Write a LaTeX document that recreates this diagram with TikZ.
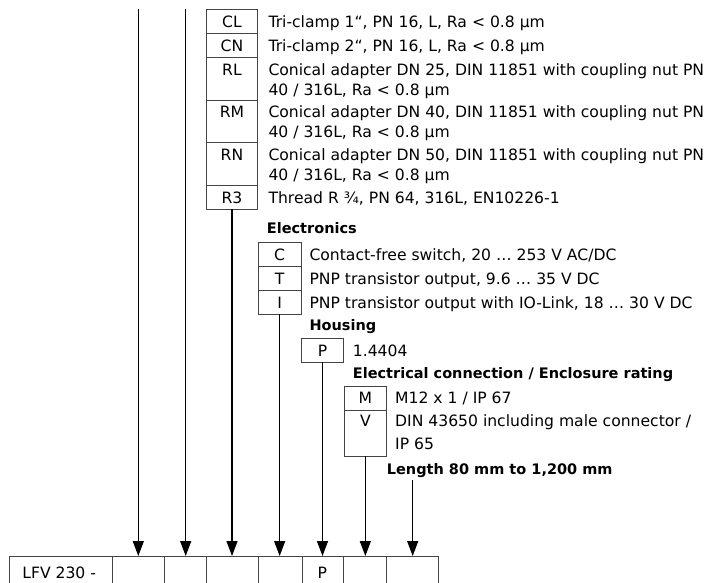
\documentclass[tikz,border=0pt]{standalone}
\usepackage{fontspec}
\setmainfont{DejaVu Sans}
\usetikzlibrary{arrows.meta}
\definecolor{boxgray}{HTML}{444444}
\newcommand\regfont{\fontsize{15.6}{19}\selectfont}
\newcommand\headfont{\bfseries\fontsize{14.5}{17}\selectfont}
\tikzset{
  cellbox/.style={draw=boxgray, line width=0.8pt, rectangle, inner sep=0pt, outer sep=0pt},
  lbl/.style={anchor=base, inner sep=0pt, font=\regfont},
  desc/.style={anchor=base west, inner sep=0pt, font=\regfont},
  head/.style={anchor=base west, inner sep=0pt, font=\headfont},
  arr/.style={line width=1.3pt, -{Triangle[length=15pt,width=11pt]}}
}
\begin{document}
\begin{tikzpicture}[x=1pt,y=-1pt]
\useasboundingbox (0,0) rectangle (711,582);
\clip (0,0) rectangle (711,582);

% ---- process connection box ----
\node[cellbox, minimum width=50.6pt, minimum height=24pt]   (cl) at (232,21.3) {};
\node[cellbox, minimum width=50.6pt, minimum height=24pt]   (cn) at (232,45.3) {};
\node[cellbox, minimum width=50.6pt, minimum height=42.7pt] (rl) at (232,78.65) {};
\node[cellbox, minimum width=50.6pt, minimum height=42.7pt] (rm) at (232,121.35) {};
\node[cellbox, minimum width=50.6pt, minimum height=42.6pt] (rn) at (232,164) {};
\node[cellbox, minimum width=50.6pt, minimum height=24pt]   (r3) at (232,197.3) {};

\node[lbl] (lcl) at (232,27) {CL};
\node[lbl] (lcn) at (232,51) {CN};
\node[lbl] (lrl) at (232,75) {RL};
\node[lbl] (lrm) at (232,117.7) {RM};
\node[lbl] (lrn) at (232,160.4) {RN};
\node[lbl] (lr3) at (232,203) {R3};

\node[desc] (dcl) at (268.3,27) {Tri-clamp 1“, PN 16, L, Ra < 0.8 µm};
\node[desc] (dcn) at (268.3,51) {Tri-clamp 2“, PN 16, L, Ra < 0.8 µm};
\node[desc] (drl) at (268.3,75) {Conical adapter DN 25, DIN 11851 with coupling nut PN};
\node[desc] (drlb) at (268.3,95) {40 / 316L, Ra < 0.8 µm};
\node[desc] (drm) at (268.3,117.7) {Conical adapter DN 40, DIN 11851 with coupling nut PN};
\node[desc] (drmb) at (268.3,137.7) {40 / 316L, Ra < 0.8 µm};
\node[desc] (drn) at (268.3,160.4) {Conical adapter DN 50, DIN 11851 with coupling nut PN};
\node[desc] (drnb) at (268.3,180.4) {40 / 316L, Ra < 0.8 µm};
\node[desc] (dr3) at (268.3,203) {Thread R ¾, PN 64, 316L, EN10226-1};

% ---- electronics ----
\node[head] (hel) at (266.7,233.6) {Electronics};
\node[cellbox, minimum width=42.7pt, minimum height=24pt]   (ec) at (279.65,254.7) {};
\node[cellbox, minimum width=42.7pt, minimum height=24pt]   (et) at (279.65,278.7) {};
\node[cellbox, minimum width=42.7pt, minimum height=23.6pt] (ei) at (279.65,302.5) {};
\node[lbl] (lec) at (279.65,260.4) {C};
\node[lbl] (let) at (279.65,284.4) {T};
\node[lbl] (lei) at (279.65,308.2) {I};
\node[desc] (dec) at (309.3,260.4) {Contact-free switch, 20 … 253 V AC/DC};
\node[desc] (det) at (309.3,284.4) {PNP transistor output, 9.6 … 35 V DC};
\node[desc] (dei) at (309.3,308.2) {PNP transistor output with IO-Link, 18 … 30 V DC};

% ---- housing ----
\node[head] (hho) at (309.3,330.3) {Housing};
\node[cellbox, minimum width=41.6pt, minimum height=24pt] (hp) at (322.5,350.3) {};
\node[lbl] (lhp) at (322.5,356) {P};
\node[desc] (dhp) at (352.7,356) {1.4404};

% ---- electrical connection ----
\node[head] (hec) at (352.7,378.6) {Electrical connection / Enclosure rating};
\node[cellbox, minimum width=42.7pt, minimum height=24pt] (cm) at (365.35,398) {};
\node[cellbox, minimum width=42.7pt, minimum height=46pt] (cv) at (365.35,433) {};
\node[lbl] (lcm) at (365.35,403.7) {M};
\node[lbl] (lcv) at (365.35,426.7) {V};
\node[desc] (dcm) at (395,403.7) {M12 x 1 / IP 67};
\node[desc] (dcv) at (395,426.7) {DIN 43650 including male connector /};
\node[desc] (dcvb) at (395,449.7) {IP 65};

% ---- length ----
\node[head] (hle) at (386.7,474.6) {Length 80 mm to 1,200 mm};

% ---- type code row ----
\node[cellbox, minimum width=103pt,  minimum height=50pt] (c0) at (60.8,581) {};
\node[cellbox, minimum width=52pt,   minimum height=50pt] (c1) at (138.3,581) {};
\node[cellbox, minimum width=42.4pt, minimum height=50pt] (c2) at (185.5,581) {};
\node[cellbox, minimum width=52pt,   minimum height=50pt] (c3) at (232.7,581) {};
\node[cellbox, minimum width=43.3pt, minimum height=50pt] (c4) at (280.35,581) {};
\node[cellbox, minimum width=41.3pt, minimum height=50pt] (c5) at (322.65,581) {};
\node[cellbox, minimum width=42.7pt, minimum height=50pt] (c6) at (364.65,581) {};
\node[cellbox, minimum width=52.3pt, minimum height=50pt] (c7) at (412.15,581) {};
\node[lbl] (tlfv) at (59.2,578.8) {LFV 230 -};
\node[lbl] (tp) at (322.4,578.8) {P};

% ---- arrows ----
\coordinate (top1) at (138.3,9.3);
\coordinate (top2) at (185.7,9.3);
\coordinate (len) at (412.7,480);
\draw[arr] (top1) -- (top1 |- c1.north);
\draw[arr] (top2) -- (top2 |- c2.north);
\draw[arr] (r3.south) -- (r3.south |- c3.north);
\draw[arr] (ei.south) -- (ei.south |- c4.north);
\draw[arr] (hp.south) -- (hp.south |- c5.north);
\draw[arr] (cv.south) -- (cv.south |- c6.north);
\draw[arr] (len) -- (len |- c7.north);
\end{tikzpicture}
\end{document}
